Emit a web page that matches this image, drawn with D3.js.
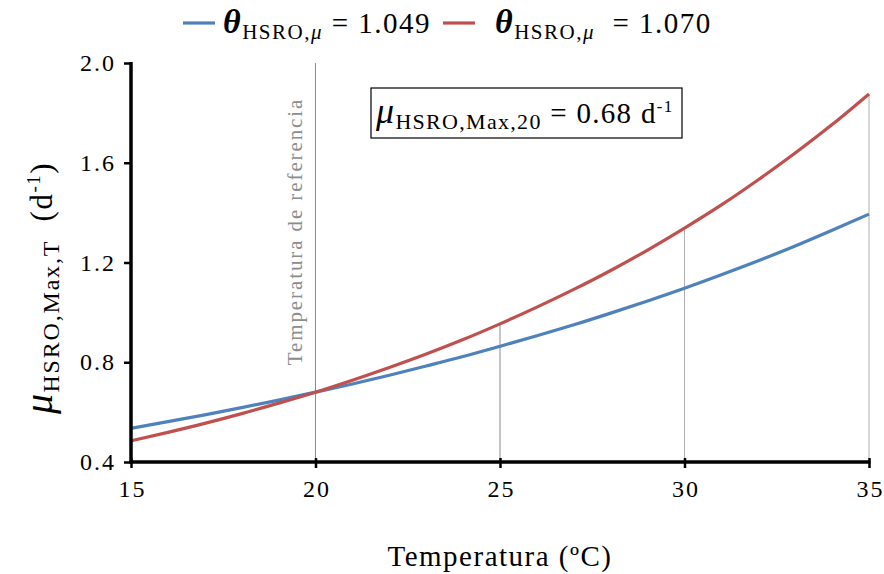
<!DOCTYPE html>
<html>
<head>
<meta charset="utf-8">
<script src="https://cdn.jsdelivr.net/npm/d3@7"></script>
<style>
  html, body { margin: 0; padding: 0; background: #fff; }
  svg { display: block; font-family: "Liberation Serif", "DejaVu Serif", serif; }
  svg text { font-family: "Liberation Serif", "DejaVu Serif", serif; }
</style>
</head>
<body>
<svg id="chart" width="884" height="574"></svg>
<script>
// Temperature (°C) and maximum specific growth rate (d^-1) for two theta values
const temperatures = [15, 16, 17, 18, 19, 20, 21, 22, 23, 24, 25, 26, 27, 28, 29, 30, 31, 32, 33, 34, 35];
const muTheta1049 = [0.535, 0.562, 0.589, 0.618, 0.648, 0.680, 0.713, 0.748, 0.785, 0.823, 0.864, 0.906, 0.950, 0.997, 1.046, 1.097, 1.151, 1.207, 1.266, 1.329, 1.394];
const muTheta1070 = [0.485, 0.519, 0.555, 0.594, 0.636, 0.680, 0.728, 0.779, 0.833, 0.891, 0.954, 1.021, 1.092, 1.168, 1.250, 1.338, 1.431, 1.532, 1.639, 1.753, 1.876];
const xTicks = [15, 20, 25, 30, 35];
const yTicks = [0.4, 0.8, 1.2, 1.6, 2.0];
const seriesNames = ["1.049", "1.070"];
const seriesColors = ["#4f81bd", "#c0504d"];
const referenceTemp = 20;
const dropLineTemps = [25, 30, 35];

const serif = '"Liberation Serif", "DejaVu Serif", serif';
const svg = d3.select("#chart");
const margin = { left: 131, right: 15, top: 63, bottom: 112 };
const W = 884, H = 574;

const x = d3.scaleLinear().domain([15, 35]).range([margin.left, W - margin.right]);
const y = d3.scaleLinear().domain([0.4, 2.0]).range([H - margin.bottom, margin.top]);

const series = [muTheta1049, muTheta1070];

// Reference temperature line (full height)
svg.append("line")
  .attr("x1", x(referenceTemp)).attr("x2", x(referenceTemp))
  .attr("y1", y(2.0)).attr("y2", y(0.4))
  .attr("stroke", "#8c8c8c").attr("stroke-width", 1);

// Drop lines from the upper curve down to the axis
svg.selectAll(".drop").data(dropLineTemps).enter().append("line")
  .attr("class", "drop")
  .attr("x1", d => x(d)).attr("x2", d => x(d))
  .attr("y1", d => y(muTheta1070[temperatures.indexOf(d)]))
  .attr("y2", y(0.4))
  .attr("stroke", (d, i) => i === 0 ? "#8c8c8c" : "#b0b0b0")
  .attr("stroke-width", 1);

// Rotated reference label
svg.append("text")
  .attr("transform", `translate(${x(referenceTemp) - 14},${y(0.8) + 3}) rotate(-90)`)
  .attr("fill", "#8c8c8c")
  .attr("font-size", 21)
  .attr("letter-spacing", 1.9)
  .text("Temperatura de referencia");

// Curves
const line = d3.line()
  .x((d, i) => x(temperatures[i]))
  .y(d => y(d))
  .curve(d3.curveMonotoneX);

series.forEach((s, k) => {
  svg.append("path")
    .datum(s)
    .attr("d", line)
    .attr("fill", "none")
    .attr("stroke", seriesColors[k])
    .attr("stroke-width", 3.2);
});

// Axes
const xAxis = d3.axisBottom(x).tickValues(xTicks).tickSize(6).tickPadding(12).tickFormat(d3.format("d"));
const gx = svg.append("g").attr("transform", `translate(0,${y(0.4)})`).call(xAxis);
gx.attr("font-family", serif);
gx.select(".domain").attr("stroke", "#000").attr("stroke-width", 3.5).attr("d", `M${x(15) - 1.5},0H${x(35) + 1.5}`);
gx.selectAll(".tick line").attr("stroke", "#000").attr("stroke-width", 2.5).attr("y1", -4).attr("y2", 6);
gx.selectAll(".tick text").attr("font-size", 24).attr("fill", "#000")
  .style("font-family", serif)
  .attr("letter-spacing", 2).attr("dx", 1);

const yAxis = d3.axisLeft(y).tickValues(yTicks).tickSize(7).tickPadding(10).tickFormat(d3.format(".1f"));
const gy = svg.append("g").attr("transform", `translate(${x(15)},0)`).call(yAxis);
gy.attr("font-family", serif);
gy.select(".domain").attr("stroke", "#000").attr("stroke-width", 3.5).attr("d", `M0,${y(2.0) - 1}V${y(0.4) + 1.5}`);
gy.selectAll(".tick line").attr("stroke", "#000").attr("stroke-width", 2.5);
gy.selectAll(".tick text").attr("font-size", 24).attr("fill", "#000")
  .style("font-family", serif)
  .attr("letter-spacing", 2).attr("dx", 2);

// X axis title
svg.append("text")
  .attr("x", (x(15) + x(35)) / 2).attr("y", 566)
  .attr("text-anchor", "middle")
  .attr("font-size", 29)
  .attr("letter-spacing", 1.5)
  .text("Temperatura (ºC)");

// Y axis title
const yt = svg.append("text")
  .attr("transform", `translate(52,288) rotate(-90)`)
  .attr("text-anchor", "middle")
  .attr("font-size", 31)
  .attr("letter-spacing", 1.5);
yt.append("tspan").attr("font-style", "italic").attr("font-size", 40).text("μ");
yt.append("tspan").attr("font-size", 24).attr("letter-spacing", 1.8).attr("dy", 7).text("HSRO,Max,T");
yt.append("tspan").attr("dy", -7).text("\u00a0 (d");
yt.append("tspan").attr("font-size", 19).attr("dy", -12).text("-1");
yt.append("tspan").attr("dy", 12).text(")");

// Annotation box
const box = svg.append("g");
box.append("rect")
  .attr("x", 371).attr("y", 88).attr("width", 311).attr("height", 50)
  .attr("fill", "#fff").attr("stroke", "#000").attr("stroke-width", 1.2);
const bt = box.append("text").attr("x", 376).attr("y", 123).attr("font-size", 29).attr("letter-spacing", 1.3);
bt.append("tspan").attr("font-style", "italic").attr("font-size", 36).text("μ");
bt.append("tspan").attr("font-size", 22).attr("dy", 6).text("HSRO,Max,20");
bt.append("tspan").attr("dy", -6).text(" = 0.68 d");
bt.append("tspan").attr("font-size", 17).attr("dy", -11).text("-1");

// Legend
const legendX = [183, 443];
const legendTextX = [40, 52];
series.forEach((s, k) => {
  const g = svg.append("g").attr("transform", `translate(${legendX[k]},0)`);
  g.append("line").attr("x1", 0).attr("x2", 32).attr("y1", 23).attr("y2", 23)
    .attr("stroke", seriesColors[k]).attr("stroke-width", 3.2);
  const t = g.append("text").attr("x", legendTextX[k]).attr("y", 33).attr("font-size", 29).attr("letter-spacing", 1.5);
  t.append("tspan").attr("font-style", "italic").attr("font-weight", "bold").attr("font-size", 34).text("θ");
  t.append("tspan").attr("font-size", 21).attr("dy", 6).text("HSRO,");
  t.append("tspan").attr("font-size", 21).attr("font-style", "italic").text("μ");
  t.append("tspan").attr("dy", -6).text((k === 1 ? "\u00a0 = " : " = ") + seriesNames[k]);
});
</script>
</body>
</html>
